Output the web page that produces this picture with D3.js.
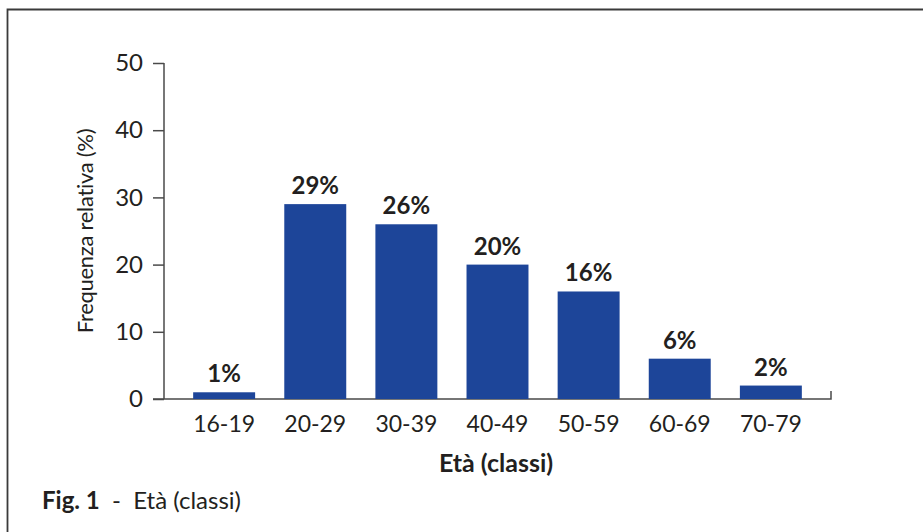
<!DOCTYPE html>
<html lang="it">
    <head>
        <meta charset="utf-8">
        <title>Età (classi)</title>
        <script type="text/javascript" src="https://d3js.org/d3.v7.min.js"></script>
        <style type="text/css">
            body { margin: 0; background: #fff; }
            text { font-family: Lato, "Open Sans", sans-serif; fill: #231f20; }
            .axis path, .axis line { stroke: #4a4a4a; stroke-width: 1.5; }
        </style>
    </head>
    <body>
        <div id="chart"></div>
        <script type="text/javascript">
            // data
            const classi = ["16-19", "20-29", "30-39", "40-49", "50-59", "60-69", "70-79"];
            const frequenze = [1, 29, 26, 20, 16, 6, 2];
            const yTicks = [0, 10, 20, 30, 40, 50];

            const W = 923, H = 532;
            const plotLeft = 164, plotRight = 831, plotTop = 63, plotBottom = 399;

            const svg = d3.select("#chart")
                .append("svg")
                .attr("width", W)
                .attr("height", H);

            // frame (only top and left edges are visible)
            svg.append("path")
                .attr("d", "M7.5," + H + "V9.5H" + W)
                .attr("fill", "none")
                .attr("stroke", "#3a3a3a")
                .attr("stroke-width", 1.8);

            let xScale = d3.scaleBand()
                .domain(classi)
                .range([plotLeft, plotRight])
                .padding(0.32);
            let yScale = d3.scaleLinear()
                .domain([0, 50])
                .range([plotBottom, plotTop]);

            // y axis
            const yAxis = d3.axisLeft(yScale).tickValues(yTicks).tickSize(11).tickPadding(10);
            let gy = svg.append("g")
                .attr("class", "axis")
                .attr("transform", "translate(" + plotLeft + ",0)")
                .call(yAxis);
            gy.select(".domain").attr("d", "M0," + plotTop + "V" + plotBottom);
            gy.selectAll("text").style("font-size", "24px");

            // x axis
            let gx = svg.append("g")
                .attr("class", "axis")
                .attr("transform", "translate(0," + plotBottom + ")")
                .call(d3.axisBottom(xScale).tickSize(0).tickPadding(17));
            gx.select(".domain").attr("d", "M" + (plotLeft - 11) + ",0H" + plotRight + "V-8");
            gx.selectAll("text").style("font-size", "23px");

            // bars
            svg.selectAll(".bar")
                .data(frequenze)
                .enter()
                .append("rect")
                .attr("class", "bar")
                .attr("x", (d, i) => xScale(classi[i]))
                .attr("width", xScale.bandwidth())
                .attr("y", d => yScale(d))
                .attr("height", d => yScale(0) - yScale(d))
                .style("fill", "#1d4599");

            // value labels
            svg.selectAll(".lbl")
                .data(frequenze)
                .enter()
                .append("text")
                .attr("class", "lbl")
                .attr("x", (d, i) => xScale(classi[i]) + xScale.bandwidth() / 2)
                .attr("y", d => yScale(d) - 10)
                .attr("text-anchor", "middle")
                .style("font-size", "24px")
                .style("font-weight", "bold")
                .text(d => d + "%");

            // axis titles
            svg.append("text")
                .attr("transform", "translate(93," + ((plotTop + plotBottom) / 2) + ") rotate(-90)")
                .attr("text-anchor", "middle")
                .style("font-size", "22px")
                .style("letter-spacing", "-0.3px")
                .text("Frequenza relativa (%)");

            svg.append("text")
                .attr("x", 496)
                .attr("y", 472)
                .attr("text-anchor", "middle")
                .style("font-size", "25px")
                .style("font-weight", "bold")
                .text("Età (classi)");

            // caption
            let cap = svg.append("text")
                .attr("x", 42)
                .attr("y", 509)
                .style("font-size", "24px");
            cap.append("tspan").style("font-weight", "bold").text("Fig. 1");
            cap.append("tspan").attr("xml:space", "preserve").text("  -  Età (classi)");
        </script>
    </body>
</html>
